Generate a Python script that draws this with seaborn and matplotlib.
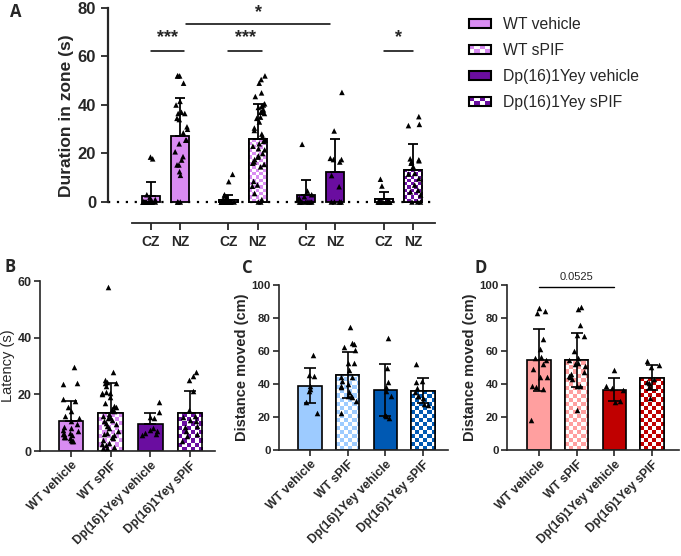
import numpy as np
import pandas as pd
import matplotlib
matplotlib.use("Agg")
import matplotlib.pyplot as plt
import seaborn as sns
from matplotlib.colors import ListedColormap
from matplotlib.patches import Rectangle, Patch
from matplotlib.legend_handler import HandlerBase

np.random.seed(3)

groups = ["WT vehicle", "WT sPIF", "Dp(16)1Yey vehicle", "Dp(16)1Yey sPIF"]
zones = ["CZ", "NZ"]
checkered = [False, True, False, True]

# A: duration in zone (s), CZ / NZ per group
dur_cz = {
    "WT vehicle": [18.5, 17.8, 3, 2, 1] + [0] * 13,
    "WT sPIF": [11.4, 8.4, 3, 2.5, 2, 1, 0.5] + [0] * 31,
    "Dp(16)1Yey vehicle": [23.8, 4.5, 3, 2.2, 1.5, 1] + [0] * 7,
    "Dp(16)1Yey sPIF": [9.4, 6.6] + [0] * 13,
}
dur_nz = {
    "WT vehicle": [52, 52, 52, 49, 41.5, 40, 37, 36.5, 36.5, 34.5, 34, 31, 30, 28.5,
                   25.5, 25.5, 24, 20.7, 18.7, 17.3, 15.3, 15.3, 12.5, 11, 0, 0, 0],
    "WT sPIF": [52, 50.5, 49, 45, 43.5, 40.5, 40, 39.5, 39, 38, 37.5, 37, 36.5, 35,
                34.5, 33, 30.5, 29.5, 28, 27, 25.5, 25, 24, 23, 22, 21.5, 20, 19,
                18.5, 17.5, 16.5, 16, 15.5, 14.5, 8.5, 7, 6.5, 3.5, 1, 0, 0],
    "Dp(16)1Yey vehicle": [45.2, 29.3, 18, 17.5, 17.5, 16.5, 10.9, 6.3, 0, 0, 0, 0, 0],
    "Dp(16)1Yey sPIF": [35.2, 32, 31.5, 17.8, 17.4, 17, 16.5, 16, 14.6, 11.8, 11.5,
                        9.6, 7, 4.8, 4.2, 2.9, 0, 0, 0],
}

# B: latency (s)
latency = {
    "WT vehicle": [29.5, 24, 23.5, 18.5, 17.5, 15.5, 14, 12.5, 11.5, 10.5, 9.5, 8.5, 8,
                   7.5, 7, 6.5, 6, 6, 5.5, 5, 5, 4.5, 4, 3.5, 3.5],
    "WT sPIF": [58, 28, 25, 24.5, 24, 24, 23, 21, 20.5, 20.5, 20, 19, 17, 16, 15.5, 15,
                14, 13, 12.5, 12, 11.5, 11, 10.5, 10, 9.5, 9, 8, 7, 6.5, 6, 5.5, 5, 4.5,
                4, 3, 2.5, 2, 1.5, 1, 1],
    "Dp(16)1Yey vehicle": [17.2, 13.6, 12, 11.5, 8, 7.5, 7, 6.5, 6, 5.5],
    "Dp(16)1Yey sPIF": [27.8, 26.3, 25.1, 21.3, 14.5, 12.4, 12, 11, 10.5, 9, 8.5, 7, 6,
                        5.3, 3.5],
}

# C: distance moved (cm), blue set
dist_c = {
    "WT vehicle": [57.5, 45.5, 45, 39, 37, 36, 29, 22.5],
    "WT sPIF": [74.5, 65, 64, 62.5, 60.5, 53, 52.5, 48.5, 44.5, 44, 42, 40, 38.5, 38,
                35, 33, 32.5, 32, 30, 22.5],
    "Dp(16)1Yey vehicle": [68, 49.5, 41, 38, 36, 32.5, 21, 20.5, 19.5],
    "Dp(16)1Yey sPIF": [52, 42, 41.5, 37.5, 35, 33, 32.5, 31.5, 28, 27.5],
}

# D: distance moved (cm), red set
dist_d = {
    "WT vehicle": [86, 84.5, 83, 67.5, 61.5, 56.5, 56, 54.5, 52, 49, 44.5, 44, 39, 38,
                   37, 18],
    "WT sPIF": [86.5, 85.5, 76, 70, 69, 60, 56, 54.5, 53, 52, 51, 47.5, 46, 45, 44, 43,
                39, 38.5, 24.5],
    "Dp(16)1Yey vehicle": [48.5, 38.5, 37.5, 36.5, 29.5, 29],
    "Dp(16)1Yey sPIF": [54, 51.5, 50.5, 43, 41.5, 40.5, 38, 31.5],
}

purple = ["#D98CF2", "#D98CF2", "#6A0DA0", "#6A0DA0"]
blue = ["#9DCBFF", "#9DCBFF", "#0059B3", "#0059B3"]
red = ["#FF9F9F", "#FF9F9F", "#C00000", "#C00000"]

sns.set_style("ticks")
plt.rcParams["font.family"] = ["Liberation Sans", "DejaVu Sans"]
plt.rcParams["axes.linewidth"] = 1.2


def long_df(d):
    return pd.DataFrame([(g, v) for g in groups for v in d[g]], columns=["group", "value"])


def checker_fill(ax, bar, color, cell_px, lw):
    x0, y0 = bar.get_x(), bar.get_y()
    w, h = bar.get_width(), bar.get_height()
    p0 = ax.transData.transform((0, 0))
    p1 = ax.transData.transform((1, 1))
    sx, sy = p1 - p0
    cdx, cdy = cell_px / sx, cell_px / sy
    ncol = int(np.ceil(w / cdx))
    nrow = max(1, int(np.ceil(h / cdy)))
    arr = np.add.outer(np.arange(nrow), np.arange(ncol)) % 2
    img = ax.imshow(arr, cmap=ListedColormap(["white", color]),
                    extent=(x0, x0 + ncol * cdx, y0, y0 + nrow * cdy),
                    origin="lower", aspect="auto", interpolation="nearest", zorder=1.2)
    img.set_clip_path(bar)
    ax.add_patch(Rectangle((x0, y0), w, h, fill=False, ec="black", lw=lw, zorder=1.3))


class CheckerHandler(HandlerBase):
    def __init__(self, color):
        super().__init__()
        self.color = color

    def create_artists(self, legend, orig_handle, xd, yd, width, height, fontsize, trans):
        arts = []
        nc, nr = 4, 2
        cw, ch = width / nc, height / nr
        for i in range(nr):
            for j in range(nc):
                c = self.color if (i + j) % 2 else "white"
                arts.append(Rectangle((-xd + j * cw, -yd + i * ch), cw, ch, fc=c,
                                      ec="none", transform=trans))
        arts.append(Rectangle((-xd, -yd), width, height, fill=False, ec="black",
                              lw=1.5, transform=trans))
        return arts


fig = plt.figure(figsize=(6.81, 5.56), dpi=100)
W, H = 681.0, 556.0


def px_axes(left, top, right, bottom):
    return fig.add_axes([left / W, 1 - bottom / H, (right - left) / W, (bottom - top) / H])


# ---------------- Panel A ----------------
dfA = pd.concat([
    pd.DataFrame([(g, "CZ", v) for g in groups for v in dur_cz[g]], columns=["group", "zone", "value"]),
    pd.DataFrame([(g, "NZ", v) for g in groups for v in dur_nz[g]], columns=["group", "zone", "value"]),
])
axA = px_axes(108, 8, 435, 223)
sns.barplot(data=dfA, x="group", y="value", hue="zone", order=groups, hue_order=zones,
            errorbar=None, width=0.75, gap=0.38, edgecolor="black", linewidth=1.3,
            legend=False, ax=axA)
xlimA, ylimA = (-0.737, 3.468), (-8.66, 80)
axA.set_xlim(xlimA)
axA.set_ylim(ylimA)

statsA = dfA.groupby(["zone", "group"])["value"].agg(["mean", "std"])
centers = {}
bar_conts = list(axA.containers)
for zi, cont in enumerate(bar_conts):
    for gi, bar in enumerate(cont):
        bar.set_facecolor(purple[gi])
        cx = bar.get_x() + bar.get_width() / 2
        centers[(zones[zi], groups[gi])] = cx
        if checkered[gi]:
            checker_fill(axA, bar, purple[gi], 3.3, 1.3)
        m, s = statsA.loc[(zones[zi], groups[gi])]
        axA.errorbar([cx], [m], yerr=[[0], [s]], fmt="none", ecolor="black",
                     elinewidth=1.3, capsize=3.6, capthick=1.3, zorder=2.5)

sns.stripplot(data=dfA, x="group", y="value", hue="zone", order=groups, hue_order=zones,
              dodge=True, jitter=0.18, palette=["black", "black"], marker="^", size=4,
              linewidth=0, legend=False, ax=axA, zorder=4)
axA.axhline(0, color="black", lw=1.6, ls=(0, (1, 3)), zorder=0.5)
axA.set_xlim(xlimA)
axA.set_ylim(ylimA)
ticks = sorted(centers.items(), key=lambda kv: kv[1])
axA.set_xticks([t[1] for t in ticks])
axA.set_xticklabels([t[0][0] for t in ticks], fontsize=10, fontweight="bold")
axA.set_yticks([0, 20, 40, 60, 80])
axA.set_yticklabels(["0", "20", "40", "60", "80"], fontsize=12, fontweight="bold")
axA.tick_params(length=5, width=1.3)
sns.despine(ax=axA)
axA.spines["left"].set_bounds(0, 80)
axA.spines["bottom"].set_bounds(-0.43, 3.468)
axA.spines["left"].set_linewidth(1.6)
axA.spines["bottom"].set_linewidth(1.3)
axA.set_xlabel("")
axA.set_ylabel("Duration in zone (s)", fontsize=12.5, fontweight="bold", labelpad=3)


def sig(ax, x1, x2, y, text, ty):
    ax.plot([x1, x2], [y, y], color="black", lw=1.1, clip_on=False)
    ax.text((x1 + x2) / 2, ty, text, ha="center", va="center", fontsize=13,
            fontweight="bold", clip_on=False)


sig(axA, centers[("CZ", groups[0])], centers[("NZ", groups[0])] + 0.05, 62.4, "***", 67.6)
sig(axA, centers[("CZ", groups[1])], centers[("NZ", groups[1])] + 0.05, 62.4, "***", 67.6)
sig(axA, centers[("NZ", groups[0])] + 0.08, centers[("NZ", groups[2])] - 0.07, 73.4, "*", 78.0)
sig(axA, centers[("CZ", groups[3])], centers[("NZ", groups[3])], 62.4, "*", 67.6)

handles = [Patch(fc=purple[i], ec="black", lw=1.5) for i in range(4)]
hmap = {handles[1]: CheckerHandler(purple[1]), handles[3]: CheckerHandler(purple[3])}
fig.legend(handles, groups, loc="upper left", bbox_to_anchor=(461 / W, 1 - 9 / H),
           frameon=False, fontsize=11.3, handlelength=1.4, handleheight=0.55,
           handletextpad=0.75, labelspacing=0.7, borderpad=0, handler_map=hmap)


# ---------------- Panels B, C, D ----------------
def bar_panel(box, d, colors, ylim, yticks, ylabel, label_weight, xlim, cell_px, ytick_size):
    ax = px_axes(*box)
    df = long_df(d)
    sns.barplot(data=df, x="group", y="value", order=groups, hue="group", hue_order=groups,
                palette=colors, saturation=1, errorbar=None, width=0.62, edgecolor="black",
                linewidth=1.2, legend=False, ax=ax)
    ax.set_xlim(xlim)
    ax.set_ylim(ylim)
    st = df.groupby("group")["value"].agg(["mean", "std"])
    bars = [b for c in list(ax.containers) for b in c]
    bars.sort(key=lambda b: b.get_x())
    for gi, bar in enumerate(bars):
        cx = bar.get_x() + bar.get_width() / 2
        if checkered[gi]:
            checker_fill(ax, bar, colors[gi], cell_px, 1.2)
        m, s = st.loc[groups[gi]]
        lower = 0 if ylabel == "Latency (s)" else s
        ax.errorbar([cx], [m], yerr=[[lower], [s]], fmt="none", ecolor="black",
                    elinewidth=1.2, capsize=4.5, capthick=1.2, zorder=2.5)
    sns.stripplot(data=df, x="group", y="value", order=groups, jitter=0.22,
                  color="black", marker="^", size=4, linewidth=0, ax=ax, zorder=4)
    ax.set_xlim(xlim)
    ax.set_ylim(ylim)
    ax.set_yticks(yticks)
    ax.set_yticklabels([str(t) for t in yticks], fontsize=ytick_size, fontweight="bold")
    ax.set_xticks(range(4))
    ax.set_xticklabels(groups, rotation=45, ha="right", rotation_mode="anchor",
                       fontsize=8.8, fontweight="bold")
    ax.tick_params(length=4, width=1.2, pad=2)
    sns.despine(ax=ax)
    ax.set_xlabel("")
    ax.set_ylabel(ylabel, fontsize=10.5, fontweight=label_weight, labelpad=1.5)
    return ax


axB = bar_panel((40, 281, 215, 451), latency, purple, (0, 60), [0, 20, 40, 60],
                "Latency (s)", "normal", (-0.78, 3.63), 4.2, 9)
axC = bar_panel((279, 285, 448, 450), dist_c, blue, (0, 100), [0, 20, 40, 60, 80, 100],
                "Distance moved (cm)", "bold", (-0.82, 3.66), 4.0, 8.2)
axD = bar_panel((507, 285, 679, 450), dist_d, red, (0, 100), [0, 20, 40, 60, 80, 100],
                "Distance moved (cm)", "bold", (-0.85, 3.72), 4.0, 8.2)

axD.plot([0, 2], [98.8, 98.8], color="black", lw=1.0, clip_on=False)
axD.text(1, 102, "0.0525", ha="center", va="bottom", fontsize=8, clip_on=False)

for letter, x, y in [("A", 10, 12), ("B", 4, 267), ("C", 242, 268), ("D", 474, 268)]:
    fig.text(x / W, 1 - y / H, letter, fontsize=12, fontweight="bold",
             family=["Open Sans", "DejaVu Sans"], ha="left", va="center")

fig.savefig("out.png", dpi=100)
